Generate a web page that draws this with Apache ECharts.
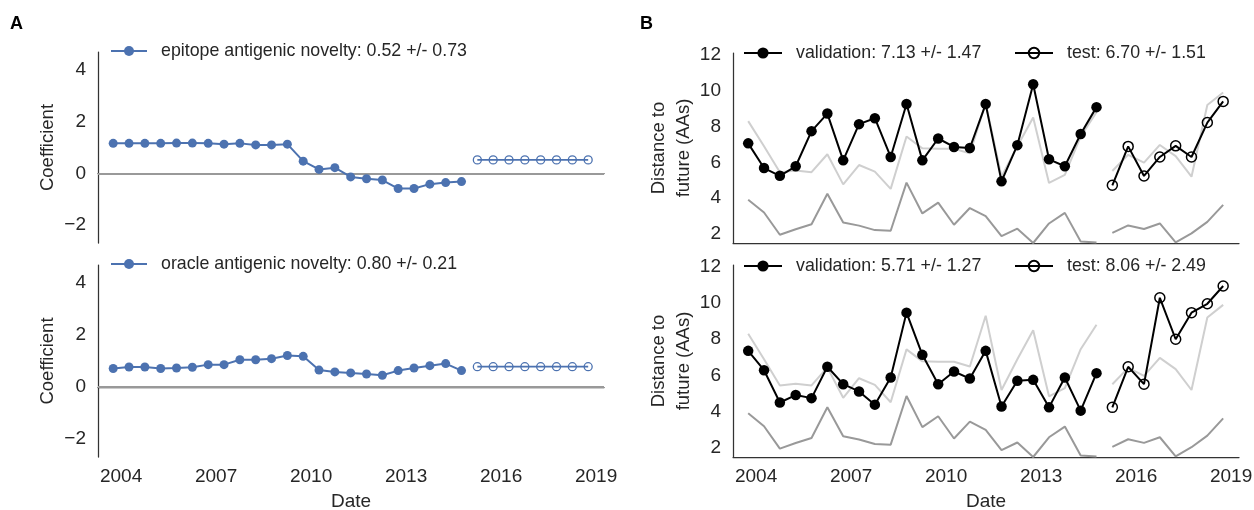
<!DOCTYPE html>
<html>
<head>
<meta charset="utf-8">
<script src="https://cdn.jsdelivr.net/npm/echarts@6/dist/echarts.min.js"></script>
<style>
  html, body { margin: 0; padding: 0; background: #ffffff; }
  #chart { width: 1254px; height: 510px; }
</style>
</head>
<body>
<div id="chart"></div>
<script>
// Timepoints (decimal years, October / April), validation and test periods
const validationDates = [2003.75, 2004.25, 2004.75, 2005.25, 2005.75, 2006.25, 2006.75, 2007.25,
  2007.75, 2008.25, 2008.75, 2009.25, 2009.75, 2010.25, 2010.75, 2011.25, 2011.75, 2012.25,
  2012.75, 2013.25, 2013.75, 2014.25, 2014.75];
const testDates = [2015.25, 2015.75, 2016.25, 2016.75, 2017.25, 2017.75, 2018.25, 2018.75];

// Panel A: model coefficients
const epitopeCoefValidation = [1.16, 1.16, 1.16, 1.16, 1.17, 1.17, 1.16, 1.13, 1.16, 1.10, 1.10, 1.13,
  0.47, 0.15, 0.22, -0.14, -0.21, -0.26, -0.59, -0.59, -0.42, -0.36, -0.32];
const epitopeCoefTest = [0.52, 0.52, 0.52, 0.52, 0.52, 0.52, 0.52, 0.52];
const oracleCoefValidation = [0.71, 0.77, 0.77, 0.71, 0.73, 0.76, 0.86, 0.86, 1.05, 1.05, 1.09, 1.21,
  1.18, 0.65, 0.58, 0.54, 0.50, 0.45, 0.63, 0.73, 0.82, 0.90, 0.63];
const oracleCoefTest = [0.78, 0.78, 0.78, 0.78, 0.78, 0.78, 0.78, 0.78];

// Panel B: distance to future (amino acids)
const epitopeDistValidation = [7.06, 5.68, 5.25, 5.78, 7.74, 8.72, 6.11, 8.13, 8.46, 6.30, 9.25, 6.11,
  7.33, 6.86, 6.80, 9.25, 4.94, 6.96, 10.36, 6.17, 5.78, 7.58, 9.08];
const epitopeDistTest = [4.72, 6.89, 5.24, 6.30, 6.92, 6.30, 8.22, 9.40];
const oracleDistValidation = [7.36, 6.29, 4.51, 4.92, 4.75, 6.48, 5.52, 5.12, 4.39, 5.89, 9.47, 7.14,
  5.52, 6.22, 5.83, 7.36, 4.29, 5.71, 5.76, 4.24, 5.89, 4.06, 6.13];
const oracleDistTest = [4.24, 6.48, 5.52, 10.29, 8.00, 9.47, 9.96, 10.94];
const naiveDistValidation = [8.30, 6.90, 5.45, 5.55, 5.45, 6.45, 4.77, 5.85, 5.48, 4.52, 7.44, 6.78,
  6.76, 6.76, 6.50, 9.30, 5.20, 6.90, 8.50, 4.85, 5.30, 7.45, 8.80];
const naiveDistTest = [5.52, 6.42, 5.98, 6.97, 6.35, 5.20, 9.20, 9.90];
const optimalDistValidation = [3.91, 3.20, 1.96, 2.27, 2.55, 4.25, 2.64, 2.47, 2.22, 2.18, 4.87, 3.15,
  3.75, 2.52, 3.45, 3.00, 1.88, 2.30, 1.50, 2.59, 3.18, 1.58, 1.53];
const optimalDistTest = [2.06, 2.48, 2.28, 2.59, 1.54, 2.04, 2.68, 3.63];

// Tick labels
const yearTicks = [2004, 2007, 2010, 2013, 2016, 2019];
const coefTicks = [-2, 0, 2, 4];
const distTicks = [2, 4, 6, 8, 10, 12];

// Legend texts
const coefLegend = ['epitope antigenic novelty: 0.52 +/- 0.73', 'oracle antigenic novelty: 0.80 +/- 0.21'];
const distLegend = [
  ['validation: 7.13 +/- 1.47', 'test: 6.70 +/- 1.51'],
  ['validation: 5.71 +/- 1.27', 'test: 8.06 +/- 2.49']
];

const FONT = 'Liberation Sans, Arial, sans-serif';
const BLUE = '#4c72b0';
const AXIS = '#333333';
const TEXT = '#262626';

const pair = (xs, ys) => xs.map((x, i) => [x, ys[i]]);

const grids = [
  { left: 98, top: 52, width: 506, height: 191 },
  { left: 98, top: 265, width: 506, height: 192 },
  { left: 733, top: 53, width: 506, height: 190 },
  { left: 733, top: 265, width: 506, height: 192 }
];

function xAxisFor(i, showLabels) {
  return {
    type: 'value', gridIndex: i, min: 2003.27, max: 2019.25,
    axisLine: { show: true, lineStyle: { color: AXIS, width: 1.25 } },
    axisTick: { show: false },
    splitLine: { show: false },
    axisLabel: {
      show: showLabels, customValues: yearTicks, margin: 10,
      color: TEXT, fontSize: 19, fontFamily: FONT,
      formatter: v => String(v)
    },
    name: showLabels ? 'Date' : '',
    nameLocation: 'middle', nameGap: 35,
    nameTextStyle: { color: TEXT, fontSize: 19, fontFamily: FONT }
  };
}

function yAxisFor(i, isCoef) {
  return {
    type: 'value', gridIndex: i,
    min: isCoef ? -2.7 : 1.5, max: isCoef ? 4.7 : 12.1,
    axisLine: { show: true, lineStyle: { color: AXIS, width: 1.25 } },
    axisTick: { show: false },
    splitLine: { show: false },
    axisLabel: {
      customValues: isCoef ? coefTicks : distTicks, margin: 12,
      color: TEXT, fontSize: 19, fontFamily: FONT,
      formatter: v => (v < 0 ? '\u2212' + Math.abs(v) : String(v))
    },
    name: isCoef ? 'Coefficient' : 'Distance to\nfuture (AAs)',
    nameLocation: 'middle', nameRotate: 90,
    nameGap: isCoef ? 38 : 28,
    nameTextStyle: { color: TEXT, fontSize: 18.5, fontFamily: FONT, lineHeight: 25 }
  };
}

const series = [];

// Panel A: coefficient lines
[[epitopeCoefValidation, epitopeCoefTest], [oracleCoefValidation, oracleCoefTest]].forEach((d, i) => {
  series.push({
    name: coefLegend[i], type: 'line', xAxisIndex: i, yAxisIndex: i,
    data: pair(validationDates, d[0]),
    symbol: 'circle', symbolSize: 9,
    lineStyle: { color: BLUE, width: 2 },
    itemStyle: { color: BLUE },
    z: 3,
    markLine: {
      silent: true, symbol: 'none', z: 1,
      label: { show: false },
      lineStyle: { color: '#999999', width: 2, type: 'solid' },
      emphasis: { disabled: true },
      data: [{ yAxis: 0 }]
    }
  });
  series.push({
    name: coefLegend[i] + ' (test)', type: 'line', xAxisIndex: i, yAxisIndex: i,
    data: pair(testDates, d[1]),
    symbol: 'circle', symbolSize: 8,
    lineStyle: { color: BLUE, width: 1.8 },
    itemStyle: { color: 'rgba(255,255,255,0)', borderColor: BLUE, borderWidth: 1.3 },
    z: 3
  });
});

// Panel B: distance to future, with naive and optimal references
[[epitopeDistValidation, epitopeDistTest], [oracleDistValidation, oracleDistTest]].forEach((d, k) => {
  const g = k + 2;
  const ref = (name, vals, dates, color) => ({
    name: name, type: 'line', xAxisIndex: g, yAxisIndex: g,
    data: pair(dates, vals), symbol: 'none',
    lineStyle: { color: color, width: 2 }, z: 2, silent: true
  });
  series.push(ref('naive ' + k, naiveDistValidation, validationDates, '#cfcfcf'));
  series.push(ref('naive test ' + k, naiveDistTest, testDates, '#cfcfcf'));
  series.push(ref('optimal ' + k, optimalDistValidation, validationDates, '#999999'));
  series.push(ref('optimal test ' + k, optimalDistTest, testDates, '#999999'));
  series.push({
    name: distLegend[k][0], type: 'line', xAxisIndex: g, yAxisIndex: g,
    data: pair(validationDates, d[0]),
    symbol: 'circle', symbolSize: 10.5,
    lineStyle: { color: '#000000', width: 2 },
    itemStyle: { color: '#000000' }, z: 4
  });
  series.push({
    name: distLegend[k][1], type: 'line', xAxisIndex: g, yAxisIndex: g,
    data: pair(testDates, d[1]),
    symbol: 'circle', symbolSize: 10,
    lineStyle: { color: '#000000', width: 2 },
    itemStyle: { color: 'rgba(255,255,255,0)', borderColor: '#000000', borderWidth: 1.5 }, z: 4
  });
});

const legendBase = {
  orient: 'horizontal', selectedMode: false, padding: 0,
  textStyle: { color: TEXT, fontSize: 17.8, fontFamily: FONT, padding: [0, 0, 0, 9] }
};

const legends = [
  Object.assign({}, legendBase, { data: [coefLegend[0]], left: 110, top: 42, itemWidth: 36, itemHeight: 12.5 }),
  Object.assign({}, legendBase, { data: [coefLegend[1]], left: 110, top: 255, itemWidth: 36, itemHeight: 12.5 }),
  Object.assign({}, legendBase, { data: [distLegend[0][0]], left: 743, top: 44, itemWidth: 38, itemHeight: 14 }),
  Object.assign({}, legendBase, { data: [distLegend[0][1]], left: 1014, top: 44, itemWidth: 38, itemHeight: 13 }),
  Object.assign({}, legendBase, { data: [distLegend[1][0]], left: 743, top: 257, itemWidth: 38, itemHeight: 14 }),
  Object.assign({}, legendBase, { data: [distLegend[1][1]], left: 1014, top: 257, itemWidth: 38, itemHeight: 13 })
];

const chart = echarts.init(document.getElementById('chart'), null, { renderer: 'canvas' });
chart.setOption({
  animation: false,
  backgroundColor: '#ffffff',
  grid: grids.map(g => Object.assign({ containLabel: false, outerBoundsMode: 'none' }, g)),
  xAxis: [xAxisFor(0, false), xAxisFor(1, true), xAxisFor(2, false), xAxisFor(3, true)],
  yAxis: [yAxisFor(0, true), yAxisFor(1, true), yAxisFor(2, false), yAxisFor(3, false)],
  legend: legends,
  series: series,
  graphic: [
    { type: 'text', left: 10, top: 15, style: { text: 'A', font: 'bold 18px ' + FONT, fill: '#000000' } },
    { type: 'text', left: 640, top: 15, style: { text: 'B', font: 'bold 18px ' + FONT, fill: '#000000' } }
  ]
});
</script>
</body>
</html>
